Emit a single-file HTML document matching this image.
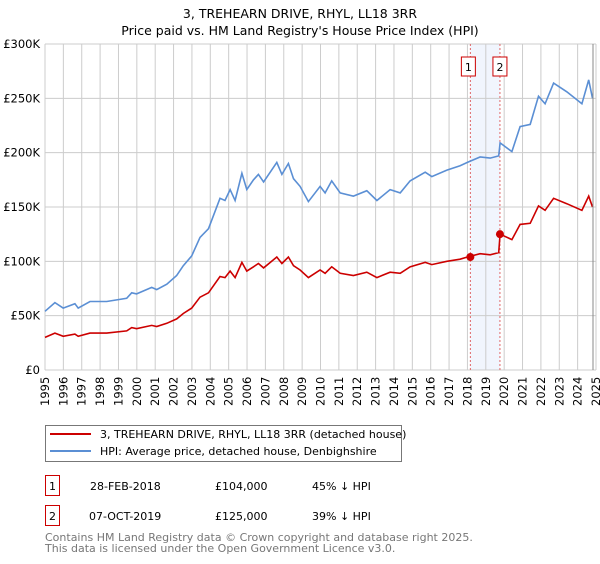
<!DOCTYPE html>
<html><head><meta charset="utf-8"><style>
body{margin:0;background:#fff;font-family:"DejaVu Sans","Liberation Sans",sans-serif;}
svg text{font-family:"DejaVu Sans","Liberation Sans",sans-serif;}
</style></head><body>
<svg id="chart" width="600" height="560" xmlns="http://www.w3.org/2000/svg">
<text x="300" y="18" text-anchor="middle" font-size="12.5">3, TREHEARN DRIVE, RHYL, LL18 3RR</text>
<text x="300" y="35" text-anchor="middle" font-size="12.5">Price paid vs. HM Land Registry's House Price Index (HPI)</text>
<g id="grid"></g>
<g id="marks"></g>
<g id="axes"></g>
<g>
<rect x="45.5" y="425.5" width="356" height="36" fill="#fff" stroke="#777"/>
<line x1="50" y1="434" x2="91" y2="434" stroke="#cc0000" stroke-width="2"/>
<text x="100" y="438" font-size="11">3, TREHEARN DRIVE, RHYL, LL18 3RR (detached house)</text>
<line x1="50" y1="451" x2="91" y2="451" stroke="#5b8fd4" stroke-width="2"/>
<text x="100" y="455" font-size="11">HPI: Average price, detached house, Denbighshire</text>
</g>
<g font-size="11">
<rect x="45.5" y="475.5" width="14" height="20" fill="#fff" stroke="#cc0000"/>
<text x="52.5" y="490" text-anchor="middle">1</text>
<text x="90" y="490">28-FEB-2018</text>
<text x="215" y="490">£104,000</text>
<text x="312" y="490">45% ↓ HPI</text>
<rect x="45.5" y="505.5" width="14" height="20" fill="#fff" stroke="#cc0000"/>
<text x="52.5" y="520" text-anchor="middle">2</text>
<text x="89" y="520">07-OCT-2019</text>
<text x="215" y="520">£125,000</text>
<text x="312" y="520">39% ↓ HPI</text>
</g>
<text x="45" y="541" font-size="11" fill="#777">Contains HM Land Registry data © Crown copyright and database right 2025.</text>
<text x="45" y="552" font-size="11" fill="#777">This data is licensed under the Open Government Licence v3.0.</text>
</svg>
<script>
const years=[1995,1995.54,1995.99,1996.63,1996.81,1997.45,1998.36,1999.45,1999.72,1999.99,2000.81,2001.08,2001.63,2002.17,2002.53,2002.99,2003.44,2003.9,2004.53,2004.8,2005.08,2005.35,2005.72,2005.99,2006.35,2006.62,2006.9,2007.62,2007.9,2008.25,2008.53,2008.89,2009.34,2009.98,2010.25,2010.61,2011.07,2011.79,2012.52,2013.07,2013.79,2014.34,2014.88,2015.7,2016.06,2016.88,2017.6,2018.0,2018.69,2019.24,2019.7,2019.78,2020.42,2020.87,2021.42,2021.87,2022.23,2022.69,2023.41,2024.23,2024.6,2024.81];
const hpiValues=[54,62,57,61,57,63,63,66,71,70,76,74,79,87,96,105,122,130,158,156,166,156,181,166,175,180,173,191,180,190,176,169,155,169,163,174,163,160,165,156,166,163,174,182,178,184,188,191,196,195,197,209,201,224,226,252,245,264,256,245,267,250];
const priceValues=[30,34,31,33,31,34,34,36,39,38,41,40,43,47,52,57,67,71,86,85,91,85,99,91,95,98,94,104,98,104,96,92,85,92,89,95,89,87,90,85,90,89,95,99,97,100,102,104,107,106,108,125,120,134,135,151,147,158,153,147,160,150];
const saleDates=[2018.16,2019.77];
const salePrices=[104,125];
const saleLabels=["1","2"];
const yTicks=[0,50,100,150,200,250,300];
const yTickLabels=["£0","£50K","£100K","£150K","£200K","£250K","£300K"];
const xTicks=[1995,1996,1997,1998,1999,2000,2001,2002,2003,2004,2005,2006,2007,2008,2009,2010,2011,2012,2013,2014,2015,2016,2017,2018,2019,2020,2021,2022,2023,2024,2025];

const X0=45,X1=596,Y0=370,Y1=44;
function xs(y){return X0+(y-1995)/30*(X1-X0);}
function ys(v){return Y0-v/300*(Y0-Y1);}
const NS="http://www.w3.org/2000/svg";
function mk(tag,attrs,parent){const e=document.createElementNS(NS,tag);for(const k in attrs)e.setAttribute(k,attrs[k]);parent.appendChild(e);return e;}
const grid=document.getElementById('grid'),marks=document.getElementById('marks'),axes=document.getElementById('axes');
// shaded band
const band=mk('rect',{x:xs(saleDates[0]),y:Y1,width:xs(saleDates[1])-xs(saleDates[0]),height:Y0-Y1,fill:'#eef3fc',opacity:0.8},grid);


xTicks.forEach((t,i)=>{
  const l=mk('line',{x1:xs(t),x2:xs(t),y1:Y1,y2:Y0,stroke:'#cccccc','stroke-width':1},grid);
  
  
  const tx=mk('text',{x:0,y:0,'font-size':11.5,transform:`translate(${xs(t)+4},${Y0+36}) rotate(-90)`},axes);
  tx.textContent=t;
  
  
});
yTicks.forEach((t,i)=>{
  const l=mk('line',{x1:X0,x2:X1,y1:ys(t),y2:ys(t),stroke:'#cccccc','stroke-width':1},grid);
  
  
  const tx=mk('text',{x:40,y:ys(t)+4,'text-anchor':'end','font-size':11.5},axes);
  tx.textContent=yTickLabels[i];
  
  
});
saleDates.forEach((d,i)=>{
  const l=mk('line',{x1:xs(d),x2:xs(d),y1:Y1,y2:Y0,stroke:'#e06666','stroke-width':1,'stroke-dasharray':'2,2'},grid);
  
  
  const r=mk('rect',{x:xs(d)-7-(i==0?2:0),y:57,width:14,height:19,fill:'#fff',stroke:'#cc0000'},axes);
  
  
  const tx=mk('text',{x:xs(d)-(i==0?2:0),y:71,'text-anchor':'middle','font-size':11},axes);
  tx.textContent=saleLabels[i];
  
  
});
const ptsH=years.map((y,i)=>xs(y).toFixed(1)+','+ys(hpiValues[i]).toFixed(1)).join(' ');
const ph=mk('polyline',{points:ptsH,fill:'none',stroke:'#5b8fd4','stroke-width':1.6},marks);


const ptsP=years.map((y,i)=>xs(y).toFixed(1)+','+ys(priceValues[i]).toFixed(1)).join(' ');
const pp=mk('polyline',{points:ptsP,fill:'none',stroke:'#cc0000','stroke-width':1.6},marks);


saleDates.forEach((d,i)=>{
  const c=mk('circle',{cx:xs(d),cy:ys(salePrices[i]),r:4,fill:'#cc0000'},marks);
  
  
});
const end=mk('line',{x1:593,x2:593,y1:Y1,y2:Y0,stroke:'#888','stroke-width':1},axes);


</script>
</body></html>
